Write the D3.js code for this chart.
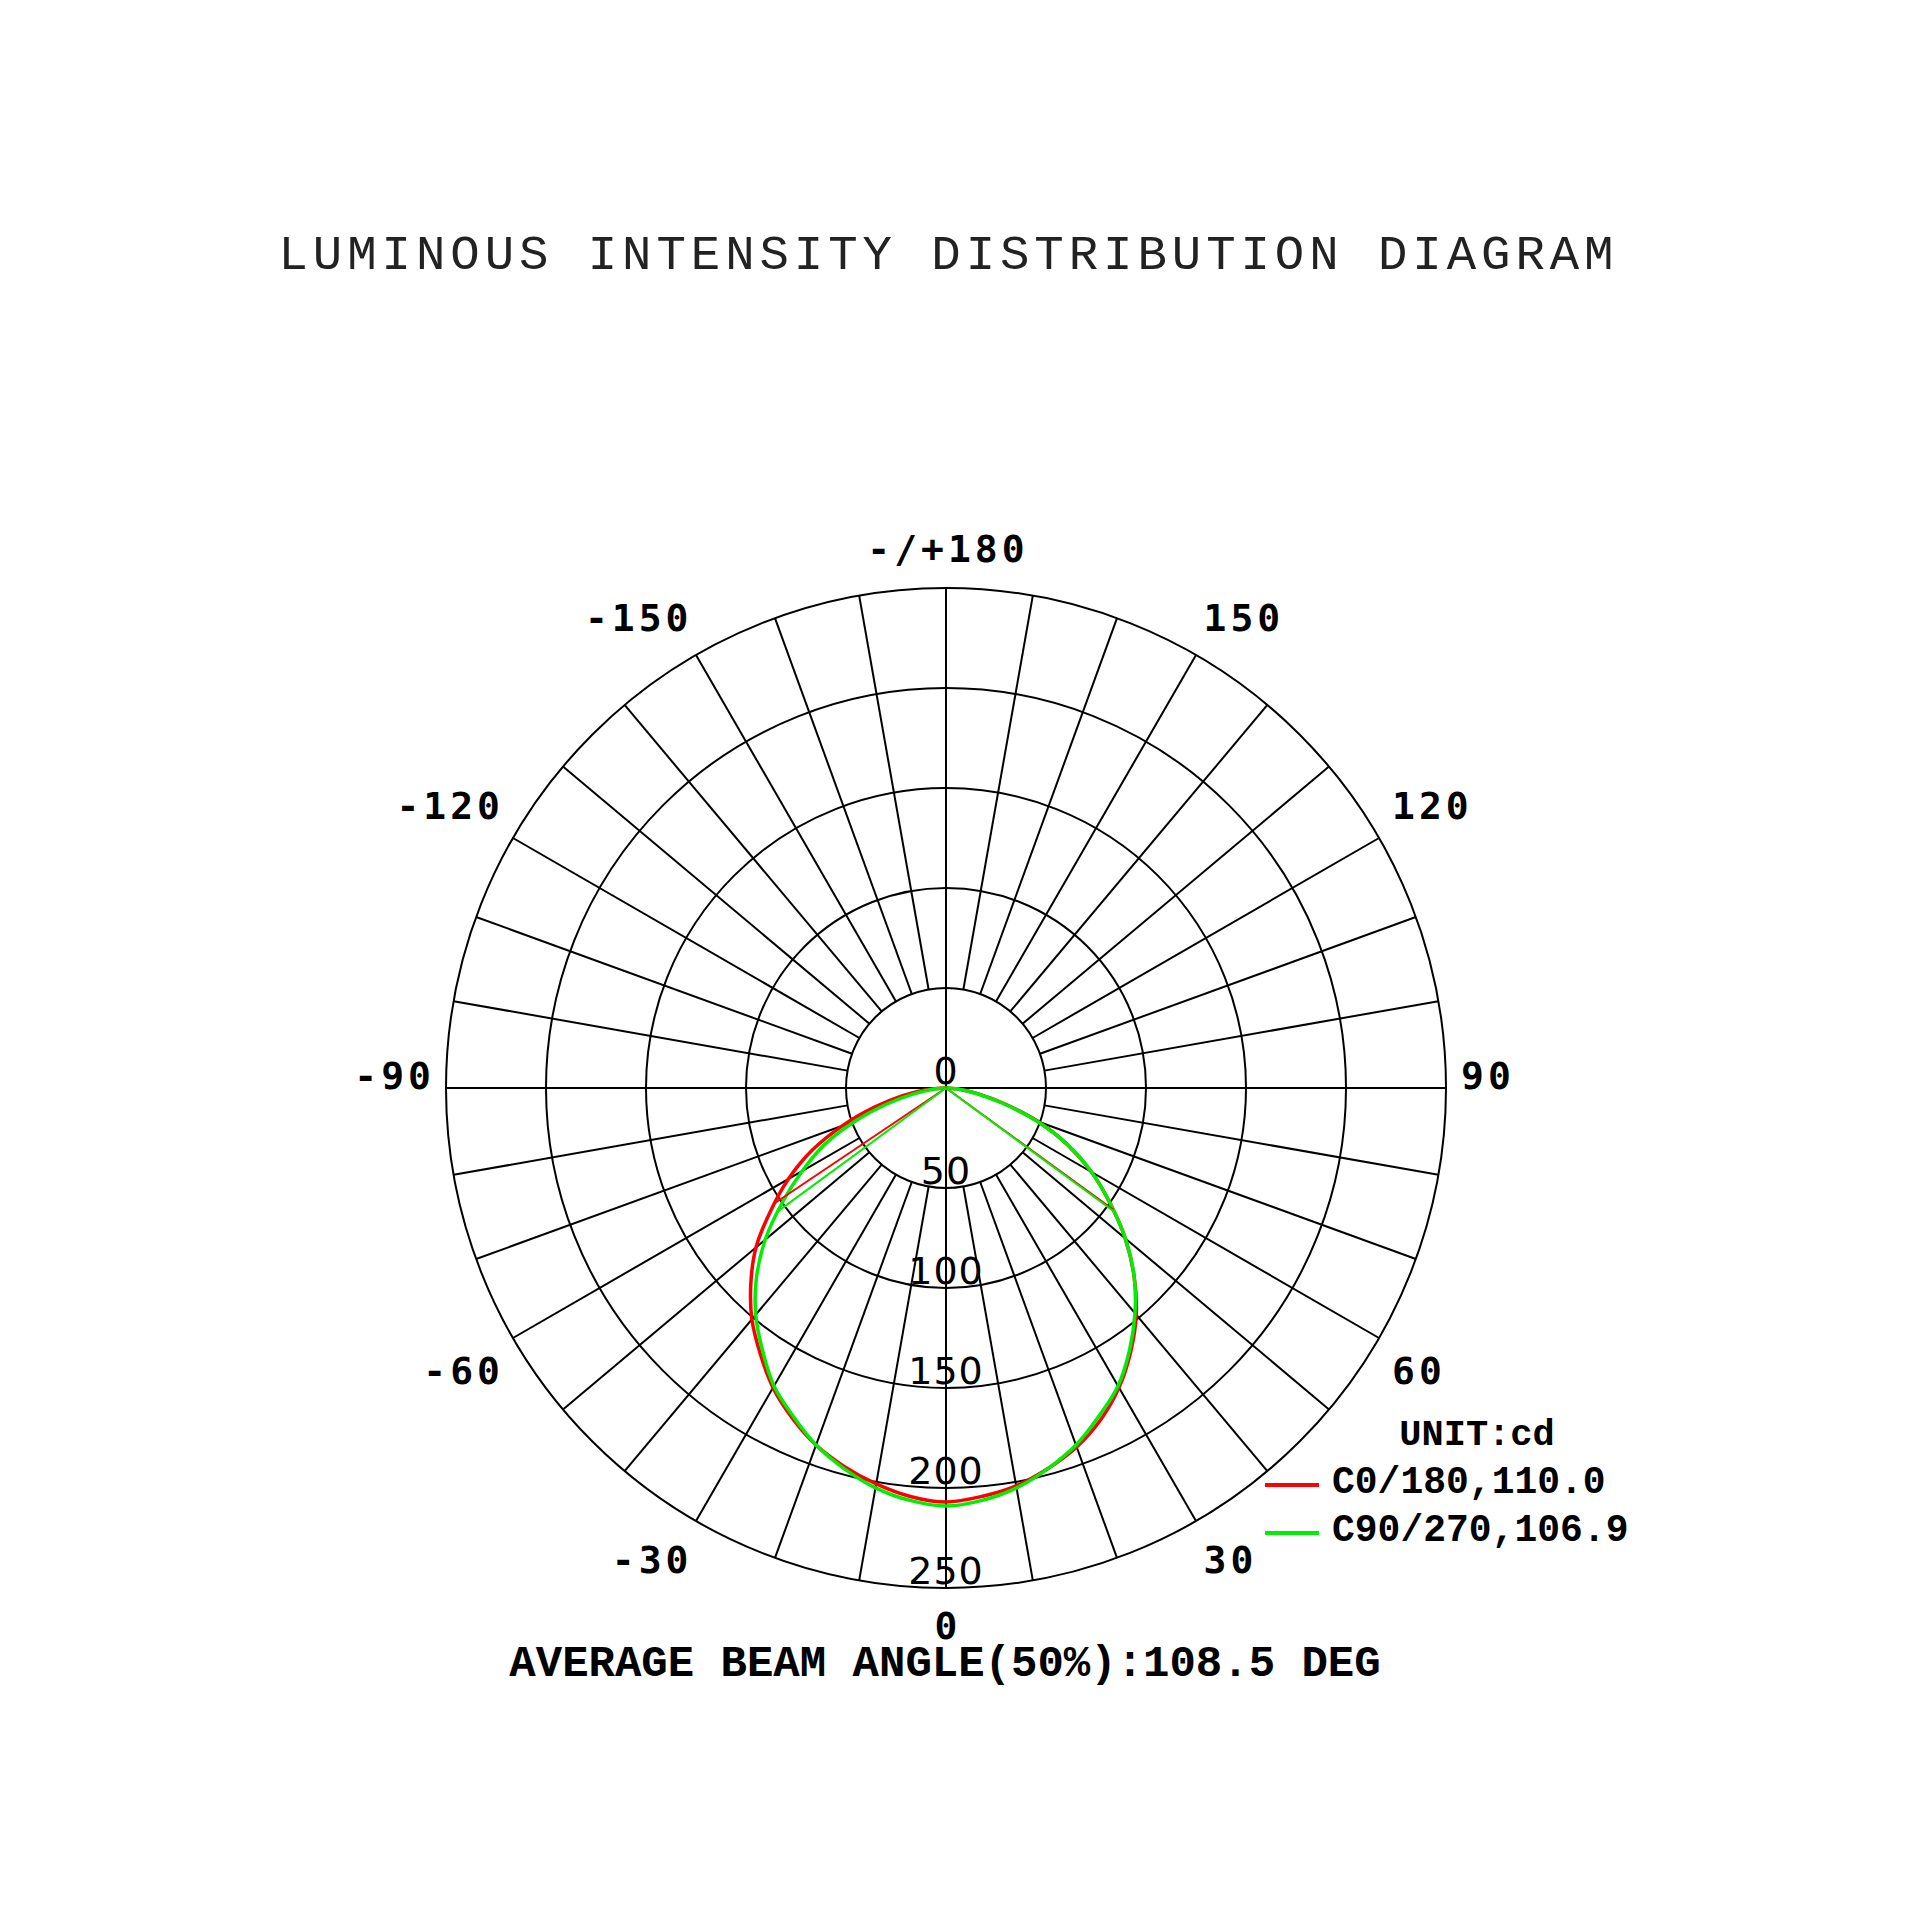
<!DOCTYPE html>
<html><head><meta charset="utf-8">
<script src="https://cdn.jsdelivr.net/npm/d3@7"></script>
<style>html,body{margin:0;padding:0;background:#fff;}</style>
</head><body>
<svg id="chart" width="1920" height="1920" xmlns="http://www.w3.org/2000/svg"></svg>
<script>
// ---------- data ----------
const gammaAngles = [-90,-85,-80,-75,-70,-65,-60,-55,-50,-45,-40,-35,-30,-25,-20,-15,-10,-5,0,5,10,15,20,25,30,35,40,45,50,55,60,65,70,75,80,85,90];
const c0_180 = [0,10,22,37,55,74,91,107,124,138,151,162,173,182,190,196,201,205,207,205,202,197,191,183,173,161,148,133,117,100,84,67,49,30,16,6,0];
const c90_270 = [0,6,16,30,48,67,83,100,118,134,148,160,172,181,190,197,203,207,209,207,203,197,190,181,172,160,147,133,117,100,84,67,48,29,15,6,0];
const seriesLabels = ["C0/180,110.0", "C90/270,106.9"];
const ringTicks = [50,100,150,200,250];
const intensityLabels = [0,50,100,150,200,250];
const angleTicks = [0,30,60,90,120,150,180,-150,-120,-90,-60,-30];
const angleTickLabels = ["0","30","60","90","120","150","-/+180","-150","-120","-90","-60","-30"];
const titleText = "LUMINOUS INTENSITY DISTRIBUTION DIAGRAM";
const unitText = "UNIT:cd";
const footerText = "AVERAGE BEAM ANGLE(50%):108.5 DEG";

// ---------- layout / style ----------
const cx = 946, cy = 1088, R = 500;
const colors = ["#ff0000", "#00ee00"];
const svg = d3.select("#chart");
const rScale = d3.scaleLinear().domain([0, 250]).range([0, R]);
const toRad = g => Math.PI - g * Math.PI / 180; // gamma 0 = down, positive = right
const px = (g, r) => r * Math.sin(toRad(g));
const py = (g, r) => -r * Math.cos(toRad(g));

svg.append("rect").attr("width",1920).attr("height",1920).attr("fill","#fff");

// title
svg.append("text").attr("x", cx).attr("y", 269).attr("text-anchor","middle")
  .attr("font-family","'Courier New','Liberation Mono',monospace").attr("font-size",49)
  .attr("fill","#222").attr("textLength",1335).attr("lengthAdjust","spacing")
  .text(titleText);

const g = svg.append("g").attr("transform", `translate(${cx},${cy})`);

// rings
g.selectAll("circle.ring").data(ringTicks).join("circle")
  .attr("class","ring").attr("r", d => rScale(d))
  .attr("fill","none").attr("stroke","#000").attr("stroke-width",2);

// spokes every 10 degrees
const spokes = d3.range(-170, 181, 10);
g.selectAll("line.spoke").data(spokes).join("line")
  .attr("class","spoke")
  .attr("x1", d => (d % 90 === 0) ? 0 : px(d, rScale(ringTicks[0])))
  .attr("y1", d => (d % 90 === 0) ? 0 : py(d, rScale(ringTicks[0])))
  .attr("x2", d => px(d, rScale(250)))
  .attr("y2", d => py(d, rScale(250)))
  .attr("stroke","#000").attr("stroke-width",2);

// intensity labels
g.selectAll("text.ilab").data(intensityLabels).join("text")
  .attr("class","ilab").attr("x", 0).attr("y", d => rScale(d) - 4)
  .attr("text-anchor","middle")
  .attr("font-family","'DejaVu Sans',sans-serif").attr("font-size",38)
  .attr("letter-spacing",1)
  .attr("fill","#000").text(d => d);

// angle labels: box corner touches circle of radius r0; negative labels grow leftwards
const aFont = 38, aSpace = 4, r0 = 515, hh = 25;
function textWidth(str) {
  const t = svg.append("text").attr("font-family","'DejaVu Sans Mono',monospace")
    .attr("font-weight","bold").attr("font-size",aFont).attr("letter-spacing",aSpace).text(str);
  const w = t.node().getComputedTextLength() - aSpace;
  t.remove();
  return w;
}
angleTicks.forEach((a, i) => {
  const lab = angleTickLabels[i];
  const digits = (a < 0) ? lab.replace(/^-/, "") : lab;
  const wd = textWidth(digits), wf = textWidth(lab);
  const abs = Math.abs(a) * Math.PI / 180;
  const s = Math.sin(abs), c = Math.cos(abs);
  let xc = r0 * s + (s > 1e-6 ? wd / 2 : 0);
  const cs = Math.abs(c) < 1e-6 ? -0.5 : Math.sign(c);
  const yc = r0 * c + hh * cs - (Math.abs(a) === 0 ? 3 : 0);
  let xStart;
  if (a < 0) { xc = -xc; xStart = xc + wd / 2 - wf; }
  else { xStart = xc - wf / 2; }
  g.append("text").attr("class","alab")
    .attr("x", xStart).attr("y", yc + 0.36 * aFont)
    .attr("font-family","'DejaVu Sans Mono',monospace").attr("font-weight","bold")
    .attr("font-size",aFont).attr("letter-spacing",aSpace)
    .attr("fill","#000").text(lab);
});

// curves
const seriesValues = [c0_180, c90_270];
const lineGen = d3.lineRadial()
  .angle(d => toRad(d[0]))
  .radius(d => rScale(d[1]))
  .curve(d3.curveCatmullRom.alpha(0.5));

seriesValues.forEach((vals, i) => {
  const pts = gammaAngles.map((a, k) => [a, vals[k]]);
  g.append("path").attr("d", lineGen(pts))
    .attr("fill","none").attr("stroke", colors[i]).attr("stroke-width",3.5);
});

// beam (50%) lines computed from data
function halfAngle(vals, side) {
  const max = d3.max(vals), half = max / 2;
  const i0 = gammaAngles.indexOf(0);
  let k = i0;
  while (true) {
    const kn = k + side;
    if (kn < 0 || kn >= gammaAngles.length) return [gammaAngles[k], vals[k]];
    if (vals[kn] <= half) {
      const t = (vals[k] - half) / (vals[k] - vals[kn]);
      return [gammaAngles[k] + t * (gammaAngles[kn] - gammaAngles[k]), half];
    }
    k = kn;
  }
}
seriesValues.forEach((vals, i) => {
  [-1, 1].forEach(side => {
    const [a, v] = halfAngle(vals, side);
    g.append("line").attr("x1",0).attr("y1",0)
      .attr("x2", px(a, rScale(v))).attr("y2", py(a, rScale(v)))
      .attr("stroke", colors[i]).attr("stroke-width",2);
  });
});

// legend
const legendFont = "'Courier New','Liberation Mono',monospace";
svg.append("text").attr("x", 1477).attr("y", 1445).attr("text-anchor","middle")
  .attr("font-family", legendFont).attr("font-weight","bold").attr("font-size",37)
  .attr("fill","#000").text(unitText);
seriesLabels.forEach((lab, i) => {
  const y = 1485 + i * 48;
  svg.append("line").attr("x1",1265).attr("x2",1319).attr("y1",y).attr("y2",y)
    .attr("stroke", colors[i]).attr("stroke-width",4);
  svg.append("text").attr("x",1332).attr("y", y + 8)
    .attr("font-family", legendFont).attr("font-weight","bold").attr("font-size",38)
    .attr("fill","#000").text(lab);
});

// footer
svg.append("text").attr("x", 945).attr("y", 1676).attr("text-anchor","middle")
  .attr("font-family", legendFont).attr("font-weight","bold").attr("font-size",44)
  .attr("fill","#000").text(footerText);
</script>
</body></html>
